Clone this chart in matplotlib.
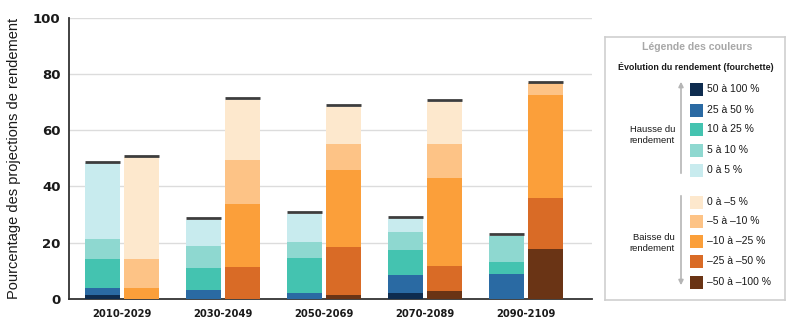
import matplotlib
matplotlib.use("Agg")
import numpy as np
import matplotlib.pyplot as plt
from matplotlib.patches import Rectangle

periods = ["2010-2029", "2030-2049", "2050-2069", "2070-2089", "2090-2109"]

# share of yield projections (%) per change class, one value per period
gain_labels = ["50 à 100 %", "25 à 50 %", "10 à 25 %", "5 à 10 %", "0 à 5 %"]
gain_50_100 = [1.4, 0.0, 0.0, 2.0, 0.0]
gain_25_50 = [2.6, 3.2, 2.0, 6.5, 8.9]
gain_10_25 = [10.3, 7.7, 12.7, 9.0, 4.4]
gain_5_10 = [7.0, 8.1, 5.4, 6.2, 9.1]
gain_0_5 = [26.9, 9.1, 10.2, 4.7, 0.0]

loss_labels = ["0 à –5 %", "–5 à –10 %", "–10 à –25 %", "–25 à –50 %", "–50 à –100 %"]
loss_0_5 = [36.1, 21.3, 13.3, 15.0, 0.0]
loss_5_10 = [10.3, 15.8, 9.1, 12.2, 4.2]
loss_10_25 = [4.0, 22.3, 27.4, 31.3, 36.5]
loss_25_50 = [0.0, 11.3, 17.1, 8.9, 18.1]
loss_50_100 = [0.0, 0.0, 1.5, 2.7, 17.9]

gain_colors = ["#0e2c4f", "#2a6aa3", "#44c3b0", "#8ed8d0", "#c8ebee"]
loss_colors = ["#fde8cd", "#fdc386", "#fb9f3a", "#d96b26", "#6a3415"]

gain_stack = [gain_50_100, gain_25_50, gain_10_25, gain_5_10, gain_0_5]
loss_stack = [loss_50_100, loss_25_50, loss_10_25, loss_5_10, loss_0_5]

TXT = ["Liberation Sans", "DejaVu Sans"]
plt.rcParams["font.family"] = ["DejaVu Sans"]

fig = plt.figure(figsize=(8, 3.35), dpi=100)
ax = fig.add_axes([69 / 800, 1 - 299 / 335, (592 - 69) / 800, (299 - 17.7) / 335])

x = np.arange(len(periods))
w = 0.345
off = 0.193


def stacked(xpos, layers, colors):
    bottom = np.zeros(len(xpos))
    for vals, c in zip(layers, colors):
        ax.bar(xpos, vals, w, bottom=bottom, color=c, linewidth=0, zorder=3)
        bottom += np.array(vals)
    # dark cap line sitting just above each stack
    for xi, tot in zip(xpos, bottom):
        ax.plot([xi - w / 2, xi + w / 2], [tot + 0.6, tot + 0.6],
                color="#3d3d3d", lw=2, solid_capstyle="butt", zorder=4)


stacked(x - off, gain_stack, gain_colors)
stacked(x + off, loss_stack, loss_colors[::-1])

ax.set_xlim(-0.525, 4.65)
ax.set_ylim(0, 100)
ax.set_yticks(range(0, 101, 20))
ax.set_xticks(x)
ax.set_xticklabels(periods, fontsize=7.2, fontweight="bold", color="#1a1a1a")
ax.tick_params(axis="y", length=0, pad=6, labelsize=9.5, labelcolor="#1a1a1a")
for lab in ax.get_yticklabels():
    lab.set_fontweight("bold")
ax.tick_params(axis="x", length=0, pad=7)
ax.grid(axis="y", color="#dcdcdc", lw=1, zorder=0)
ax.set_axisbelow(True)
for s in ["top", "right"]:
    ax.spines[s].set_visible(False)
for s in ["left", "bottom"]:
    ax.spines[s].set_color("#333333")
    ax.spines[s].set_linewidth(1.3)
ax.set_ylabel("Pourcentage des projections de rendement", family=TXT,
              fontsize=10.5, color="#1a1a1a", labelpad=9)

# colour key drawn in pixel coordinates of its own box
lg = fig.add_axes([605 / 800, 1 - 300 / 335, 180 / 800, 263 / 335])
lg.set_xlim(0, 180)
lg.set_ylim(263, 0)
lg.set_xticks([])
lg.set_yticks([])
for s in lg.spines.values():
    s.set_color("#cfcfcf")
    s.set_linewidth(1.2)

lg.text(92, 10, "Légende des couleurs", ha="center", va="center", family=TXT,
        fontsize=7.6, fontweight="bold", color="#a8a8a8")
lg.text(91, 30, "Évolution du rendement (fourchette)", ha="center", va="center",
        family=TXT, fontsize=6.4, fontweight="bold", color="#1a1a1a")

gain_rows = [52, 73, 92, 113, 133]
loss_rows = [165, 184, 204, 224, 245]
for rows, labels, colors in [(gain_rows, gain_labels, gain_colors),
                             (loss_rows, loss_labels, loss_colors)]:
    for yy, lab, c in zip(rows, labels, colors):
        lg.add_patch(Rectangle((85, yy - 6.5), 13, 13, color=c, lw=0))
        lg.text(102, yy, lab, va="center", ha="left", family=TXT,
                fontsize=7.5, color="#1a1a1a")

lg.annotate("", xy=(76, 42), xytext=(76, 139),
            arrowprops=dict(arrowstyle="-|>", color="#b5b5b5", lw=1.2,
                            mutation_scale=7))
lg.annotate("", xy=(76, 251), xytext=(76, 156),
            arrowprops=dict(arrowstyle="-|>", color="#b5b5b5", lw=1.2,
                            mutation_scale=7))
lg.text(70, 98, "Hausse du\nrendement", ha="right", va="center", family=TXT,
        fontsize=6.8, color="#1a1a1a", linespacing=1.3)
lg.text(70, 206, "Baisse du\nrendement", ha="right", va="center", family=TXT,
        fontsize=6.8, color="#1a1a1a", linespacing=1.3)

fig.savefig("out.png", dpi=100)
